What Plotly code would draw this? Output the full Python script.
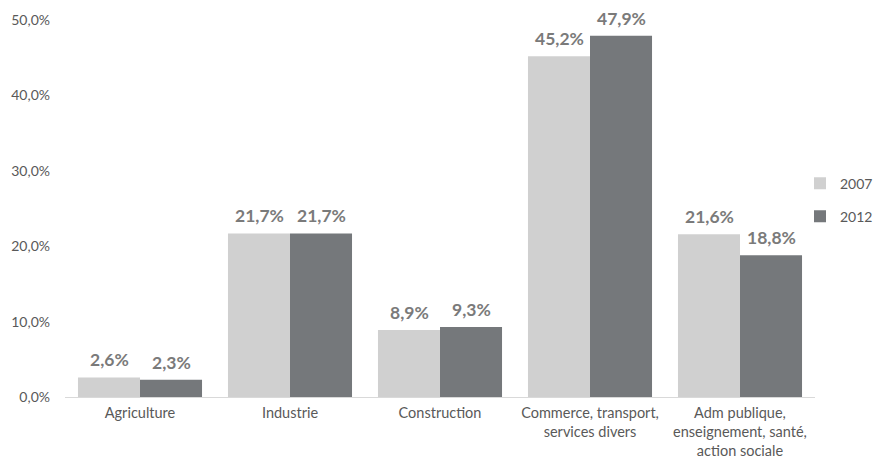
import plotly.graph_objects as go

categories = ["Agriculture", "Industrie", "Construction",
              "Commerce, transport,<br>services divers",
              "Adm publique,<br>enseignement, santé,<br>action sociale"]
series_names = ["2007", "2012"]
values_2007 = [2.6, 21.7, 8.9, 45.2, 21.6]
values_2012 = [2.3, 21.7, 9.3, 47.9, 18.8]
y_ticks = [0, 10, 20, 30, 40, 50]

colors = ["#d0d0d0", "#75787b"]
font_family = "Lato, Open Sans, sans-serif"
label_shift = [-31, 31]

fig = go.Figure()
for name, vals, col, dx in zip(series_names, [values_2007, values_2012], colors, label_shift):
    fig.add_trace(go.Bar(
        x=categories, y=vals, name=name, legendgroup=name,
        marker=dict(color=col, line=dict(width=0)),
    ))
    for c, v in zip(categories, vals):
        fig.add_annotation(
            x=c, y=v, text=f"{v:.1f}%".replace(".", ","),
            showarrow=False, xanchor="center", yanchor="bottom",
            xshift=dx, yshift=6, borderpad=0,
            font=dict(size=17.5, color="#7a7a7a", family=font_family, weight="bold"),
        )

# page body adds an 8px offset, so the figure is 880x454
fig.update_layout(
    width=880, height=454,
    margin=dict(l=57, r=73, t=12, b=65, autoexpand=False),
    plot_bgcolor="white", paper_bgcolor="white",
    barmode="group", bargap=0.173, bargroupgap=0,
    separators=",.",
    font=dict(family=font_family, size=14, color="#595959"),
    legend=dict(xref="container", yref="container", x=0.9, y=0.577,
                xanchor="left", yanchor="middle",
                font=dict(size=14, color="#595959"), tracegroupgap=12,
                itemwidth=30, bgcolor="rgba(0,0,0,0)"),
    showlegend=True,
)
fig.update_xaxes(showline=True, linecolor="#d9d9d9", linewidth=1, automargin=False,
                 showgrid=False, ticks="", ticklabelstandoff=3,
                 tickfont=dict(size=14.5, color="#595959"))
fig.update_yaxes(range=[0, 50], tickvals=y_ticks, automargin=False,
                 ticktext=[f"{t:.1f}%".replace(".", ",") for t in y_ticks],
                 showgrid=False, zeroline=False, showline=False,
                 tickfont=dict(size=14, color="#595959"), ticklabelstandoff=14)

fig.write_html("out.html")
